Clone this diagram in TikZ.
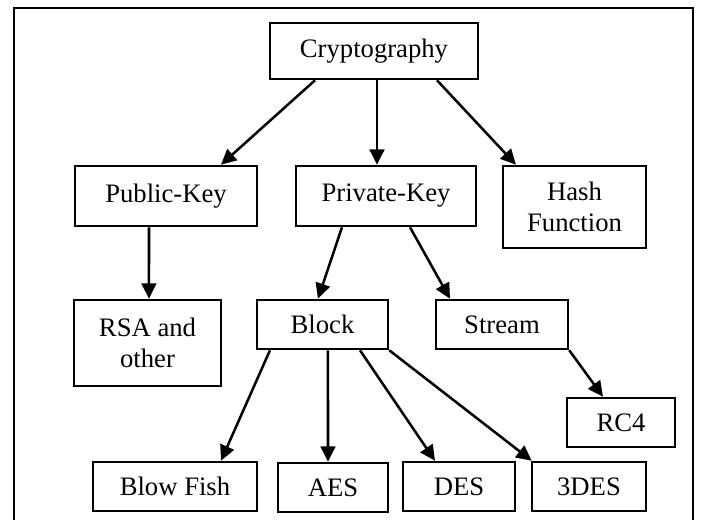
\documentclass[tikz,border=0pt]{standalone}
\usepackage{fontspec}
\setmainfont{Liberation Serif}
\usetikzlibrary{arrows.meta}

\tikzset{every picture/.style={line width=1.9pt}}
\tikzset{
  catbox/.style 2 args={draw, fill=white, inner sep=0.75pt, align=center,
    minimum width=#1*0.75pt, minimum height=#2*0.75pt,
    font=\fontsize{20}{23}\selectfont},
  link/.style={-{Triangle[length=11.5pt,width=11pt]}}
}

\begin{document}
\begin{tikzpicture}[x=0.75pt,y=0.75pt,yscale=-1,xscale=1]
\useasboundingbox (0,0) rectangle (701,519);

%Shape: Rectangle (frame)
\draw (14,8) -- (693,8) -- (693,535) -- (14,535) -- cycle ;

% Text Node
\node [catbox={208}{56}] (crypto) at (374,51) {Cryptography};
% Text Node
\node [catbox={182}{60}] (pub) at (166,196) {Public-Key};
% Text Node
\node [catbox={180}{60}] (priv) at (386,196) {Private-Key};
% Text Node
\node [catbox={143}{82}] (hash) at (574.5,207) {Hash\\Function};
% Text Node
\node [catbox={147}{86}] (rsa) at (147.5,343) {RSA and\\other};
% Text Node
\node [catbox={131}{49}] (block) at (322.5,324.5) {Block};
% Text Node
\node [catbox={132}{49}] (stream) at (502,324.5) {Stream};
% Text Node
\node [catbox={108}{49}] (rc4) at (621,422.5) {RC4};
% Text Node
\node [catbox={164}{49}] (blowfish) at (175,486.5) {Blow Fish};
% Text Node
\node [catbox={110}{49}] (aes) at (333,487.5) {AES};
% Text Node
\node [catbox={112}{49}] (des) at (459,486.5) {DES};
% Text Node
\node [catbox={114}{49}] (tdes) at (589,486.5) {3DES};

%Straight Lines
\draw [link] ([xshift=-44.25pt]crypto.south) -- ([xshift=41.25pt]pub.north) ;
%Straight Lines
\draw [link] ([xshift=2.25pt]crypto.south) -- ([xshift=-6.75pt]priv.north) ;
%Straight Lines
\draw [link] ([xshift=47.25pt]crypto.south) -- ([xshift=-43.9pt]hash.north) ;
%Straight Lines
\draw [link] ([xshift=-12.75pt]pub.south) -- ([xshift=1.1pt]rsa.north) ;
%Straight Lines
\draw [link] ([xshift=-33pt]priv.south) -- ([xshift=-3.4pt]block.north) ;
%Straight Lines
\draw [link] ([xshift=18pt]priv.south) -- ([xshift=-39pt]stream.north) ;
%Straight Lines
\draw [link] (stream.south east) -- ([xshift=-13.5pt]rc4.north) ;
%Straight Lines
\draw [link] ([xshift=-39.4pt]block.south) -- ([xshift=34.5pt]blowfish.north) ;
%Straight Lines
\draw [link] ([xshift=4.1pt]block.south) -- ([xshift=-3.75pt]aes.north) ;
%Straight Lines
\draw [link] ([xshift=28.1pt]block.south) -- ([xshift=-18pt]des.north) ;
%Straight Lines
\draw [link] (block.south east) -- ([xshift=0.75pt]tdes.north west) ;

\end{tikzpicture}
\end{document}
